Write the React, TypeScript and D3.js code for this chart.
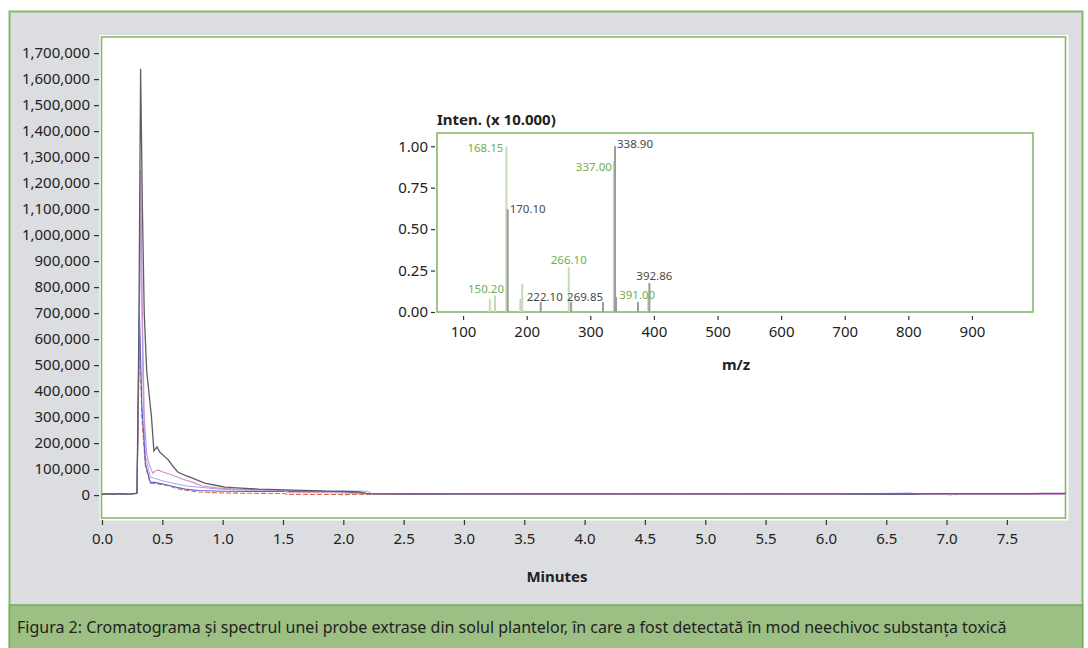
import { useEffect, useRef } from "react";
import * as d3 from "d3";

// axis ticks
const minuteTicks = [0, 0.5, 1, 1.5, 2, 2.5, 3, 3.5, 4, 4.5, 5, 5.5, 6, 6.5, 7, 7.5];
const countTicks = [0, 100000, 200000, 300000, 400000, 500000, 600000, 700000, 800000, 900000, 1000000, 1100000, 1200000, 1300000, 1400000, 1500000, 1600000, 1700000];
const mzTicks = [100, 200, 300, 400, 500, 600, 700, 800, 900];
const intenTicks = [0, 0.25, 0.5, 0.75, 1];

// chromatogram traces (minutes / counts)
const blackTime = [0, 0.05, 0.1, 0.15, 0.2, 0.25, 0.29, 0.305, 0.32, 0.335, 0.35, 0.37, 0.39, 0.41, 0.43, 0.456, 0.48, 0.52, 0.55, 0.59, 0.63, 0.69, 0.75, 0.85, 0.95, 1.02, 1.15, 1.3, 1.45, 1.58, 1.75, 1.85, 2.0, 2.12, 2.2, 2.5, 3.0, 3.5, 4.0, 5.0, 6.0, 6.7, 7.0, 7.4, 7.7, 7.8, 8.0];
const blackCounts = [4000, 5000, 3000, 6000, 4000, 5000, 8000, 600000, 1640000, 1100000, 700000, 480000, 390000, 300000, 170000, 185000, 165000, 148000, 135000, 110000, 88000, 76000, 65000, 46000, 37000, 31000, 27000, 23000, 21000, 19000, 17000, 15000, 14000, 13000, 6000, 5000, 4500, 4500, 4500, 4500, 4500, 5000, 5500, 6000, 6000, 6500, 6500];

const pinkTime = [0, 0.1, 0.2, 0.29, 0.305, 0.32, 0.335, 0.35, 0.37, 0.39, 0.42, 0.45, 0.47, 0.5, 0.58, 0.69, 0.75, 0.83, 0.95, 1.1, 1.3, 1.5, 1.55, 2.0, 2.2, 3.0, 4.0, 5.0, 6.0, 6.7, 6.8, 7.0, 8.0];
const pinkCounts = [5000, 4000, 5000, 6000, 500000, 1250000, 700000, 300000, 160000, 120000, 85000, 95000, 96000, 90000, 77000, 58000, 50000, 35000, 28000, 23000, 20000, 18000, 10000, 8000, 5000, 4000, 3000, 3000, 3000, 8000, 3000, 3000, 3000];

const lavenderTime = [0, 0.1, 0.2, 0.29, 0.305, 0.32, 0.34, 0.36, 0.4, 0.5, 0.7, 1.0, 1.5, 2.2, 2.25, 3.0, 8.0];
const lavenderCounts = [5000, 5000, 4000, 6000, 450000, 1050000, 400000, 150000, 70000, 55000, 35000, 22000, 18000, 15000, 3000, 3000, 3000];

const blueTime = [0, 0.1, 0.2, 0.29, 0.31, 0.33, 0.36, 0.4, 0.45, 0.55, 0.6, 0.69, 0.8, 1.0, 1.5, 2.0, 2.2, 3.0, 8.0];
const blueCounts = [5000, 6000, 4000, 6000, 700000, 350000, 120000, 50000, 48000, 38000, 32000, 23000, 18000, 15000, 14000, 13000, 5000, 4000, 4000];

const orangeTime = [0, 0.1, 0.2, 0.29, 0.31, 0.33, 0.36, 0.4, 0.45, 0.55, 0.65, 0.8, 1.0, 1.5, 1.55, 2.0, 2.5, 3.0, 6.8, 6.9, 7.0, 8.0];
const orangeCounts = [4000, 5000, 6000, 5000, 630000, 300000, 110000, 46000, 44000, 36000, 22000, 12000, 8000, 6000, 3000, 2000, 3000, 3000, 3000, 6000, 2000, 3000];

// mass spectrum (m/z, relative intensity x 10.000)
const peakMz = [142, 150.2, 168.15, 170.1, 190, 193, 222.1, 266.1, 269.85, 320, 337.0, 338.9, 340.5, 375, 391.0, 392.86];
const peakInten = [0.08, 0.1, 1.0, 0.62, 0.08, 0.17, 0.06, 0.27, 0.06, 0.06, 0.91, 1.0, 0.09, 0.06, 0.09, 0.175];
const peakGroup = ["ref", "ref", "ref", "obs", "ref", "ref", "obs", "ref", "obs", "obs", "ref", "obs", "obs", "obs", "ref", "obs"];
const peakLabel = ["", "150.20", "168.15", "170.10", "", "", "222.10", "266.10", "269.85", "", "337.00", "338.90", "", "", "391.00", "392.86"];

const FONT = "'Noto Sans', 'Open Sans', sans-serif";
const GREEN = "#82b96c";
const GREEN_TEXT = "#6fae4f";

export default function App() {
  const svgRef = useRef(null);

  useEffect(() => {
    const svg = d3.select(svgRef.current);
    svg.selectAll("*").remove();

    // page frame
    svg.append("rect").attr("x", 9.5).attr("y", 11.5).attr("width", 1073).attr("height", 640)
      .attr("fill", "#dcdde0").attr("stroke", GREEN).attr("stroke-width", 2);
    svg.append("rect").attr("x", 9.5).attr("y", 605).attr("width", 1073).attr("height", 45)
      .attr("fill", "#9cbf84").attr("stroke", "#74ad5c").attr("stroke-width", 1.5);
    svg.append("text").attr("x", 17).attr("y", 633)
      .style("font-family", FONT).style("font-size", "16px").style("fill", "#222")
      .text("Figura 2: Cromatograma și spectrul unei probe extrase din solul plantelor, în care a fost detectată în mod neechivoc substanța toxică");

    // chromatogram
    const m = { left: 102, right: 1066, top: 37, bottom: 518 };
    const x = d3.scaleLinear().domain([0, 7.99]).range([m.left, m.right]);
    const y = d3.scaleLinear().domain([-88000, 1762000]).range([m.bottom, m.top]);

    svg.append("rect").attr("x", 99.5).attr("y", 35).attr("width", 969).attr("height", 485.5).attr("fill", "#fff");
    svg.append("rect").attr("x", 101.5).attr("y", 37).attr("width", 964).attr("height", 481)
      .attr("fill", "none").attr("stroke", GREEN).attr("stroke-width", 1.6);

    svg.append("clipPath").attr("id", "plotclip").append("rect")
      .attr("x", m.left).attr("y", m.top).attr("width", m.right - m.left).attr("height", m.bottom - m.top);

    const traces = [
      { t: lavenderTime, v: lavenderCounts, color: "#a7a6e6", w: 1, dash: null },
      { t: orangeTime, v: orangeCounts, color: "#e2683f", w: 1.1, dash: "5,2" },
      { t: blueTime, v: blueCounts, color: "#5466d4", w: 1.1, dash: null },
      { t: pinkTime, v: pinkCounts, color: "#cf8fd0", w: 1.1, dash: null },
      { t: blackTime, v: blackCounts, color: "#5d5e62", w: 1.3, dash: null },
    ];
    const line = d3.line().x((d) => x(d[0])).y((d) => y(d[1]));
    const g = svg.append("g").attr("clip-path", "url(#plotclip)");
    traces.forEach((tr) => {
      const pts = tr.t.map((t, i) => [t, tr.v[i]]);
      g.append("path").datum(pts).attr("fill", "none").attr("stroke", tr.color)
        .attr("stroke-width", tr.w).attr("stroke-dasharray", tr.dash).attr("d", line);
    });

    const styleAxis = (sel, size) => {
      sel.select(".domain").remove();
      sel.selectAll("line").attr("stroke", "#333").attr("stroke-width", 1.2);
      sel.selectAll("text").style("font-family", FONT).style("font-size", size).style("fill", "#222");
    };

    svg.append("g").attr("transform", "translate(99,0)")
      .call(d3.axisLeft(y).tickValues(countTicks).tickFormat(d3.format(",")).tickSize(5).tickPadding(4))
      .call((s) => styleAxis(s, "15px"));

    svg.append("g").attr("transform", "translate(0,520)")
      .call(d3.axisBottom(x).tickValues(minuteTicks).tickFormat(d3.format(".1f")).tickSize(5).tickPadding(8))
      .call((s) => styleAxis(s, "15px"));

    svg.append("text").attr("x", 557).attr("y", 582).attr("text-anchor", "middle")
      .style("font-family", FONT).style("font-size", "15px").style("font-weight", "bold").style("fill", "#222")
      .text("Minutes");

    // mass spectrum inset
    const ix = d3.scaleLinear().domain([59, 996]).range([437, 1033]);
    const iy = d3.scaleLinear().domain([0, 1.08]).range([312, 133]);

    svg.append("rect").attr("x", 437).attr("y", 133).attr("width", 596).attr("height", 179)
      .attr("fill", "#fff").attr("stroke", GREEN).attr("stroke-width", 1.6);

    peakMz.forEach((mz, i) => {
      svg.append("line").attr("x1", ix(mz)).attr("x2", ix(mz)).attr("y1", iy(0)).attr("y2", iy(peakInten[i]))
        .attr("stroke", peakGroup[i] === "ref" ? "#c3dbb8" : "#9b9b9b").attr("stroke-width", 2);
    });

    const labelPlace = {
      "150.20": ["middle", -9, -2],
      "168.15": ["end", -3, 6],
      "170.10": ["start", 2, 4],
      "222.10": ["middle", 4, -1],
      "266.10": ["middle", 0, -3],
      "269.85": ["start", -4, -1],
      "337.00": ["end", -2, 10],
      "338.90": ["start", 2, 2],
      "391.00": ["end", 7, 2],
      "392.86": ["middle", 5, -3],
    };
    peakMz.forEach((mz, i) => {
      const lab = peakLabel[i];
      if (!lab) return;
      const [anchor, dx, dy] = labelPlace[lab];
      svg.append("text").attr("x", ix(mz) + dx).attr("y", iy(peakInten[i]) + dy).attr("text-anchor", anchor)
        .style("font-family", FONT).style("font-size", "11.5px")
        .style("fill", peakGroup[i] === "ref" ? GREEN_TEXT : "#4a4a4a")
        .text(lab);
    });

    svg.append("g").attr("transform", "translate(435,0)")
      .call(d3.axisLeft(iy).tickValues(intenTicks).tickFormat(d3.format(".2f")).tickSize(4).tickPadding(3))
      .call((s) => styleAxis(s, "15px"));

    svg.append("g").attr("transform", "translate(0,316)")
      .call(d3.axisBottom(ix).tickValues(mzTicks).tickSize(4).tickPadding(6))
      .call((s) => styleAxis(s, "15px"));

    svg.append("text").attr("x", 437).attr("y", 125)
      .style("font-family", FONT).style("font-size", "15px").style("font-weight", "bold").style("fill", "#222")
      .text("Inten. (x 10.000)");

    svg.append("text").attr("x", 736).attr("y", 370).attr("text-anchor", "middle")
      .style("font-family", FONT).style("font-size", "15px").style("font-weight", "bold").style("fill", "#222")
      .text("m/z");
  }, []);

  return (
    <svg ref={svgRef} width={1088} height={648}
      style={{ position: "absolute", left: 0, top: 0, background: "#fff" }} />
  );
}
